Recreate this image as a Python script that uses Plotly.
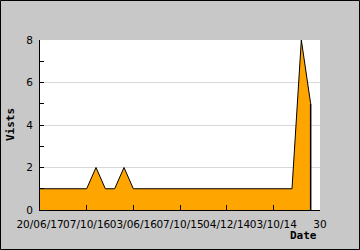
import plotly.graph_objects as go

x_index = list(range(30))
visits = [1, 1, 1, 1, 1, 1, 2, 1, 1, 2,
          1, 1, 1, 1, 1, 1, 1, 1, 1, 1,
          1, 1, 1, 1, 1, 1, 1, 1, 8, 5]
tick_vals = [0, 5, 10, 15, 20, 25, 30]
tick_text = ["20/06/17", "07/10/16", "03/06/16", "07/10/15", "04/12/14", "03/10/14", "30"]

W, H = 360, 250
L, R, T, B = 40, 40, 40, 40
pw, ph = W - L - R, H - T - B

fig = go.Figure()
fig.add_trace(go.Scatter(x=x_index, y=visits, mode="lines", fill="tozeroy",
                         fillcolor="#FFA500", line=dict(color="black", width=1),
                         hoverinfo="skip"))
fig.add_trace(go.Scatter(x=[x_index[-1], x_index[-1]], y=[0, visits[-1]], mode="lines",
                         line=dict(color="black", width=1.5), hoverinfo="skip"))

font_tick = dict(family="DejaVu Sans", size=10.5, color="black")
fig.update_layout(
    width=W, height=H, margin=dict(l=L, r=R, t=T, b=B),
    paper_bgcolor="#C8C8C8", plot_bgcolor="white", showlegend=False,
    xaxis=dict(range=[0, 30], tickvals=tick_vals, ticktext=tick_text, ticks="inside",
               ticklen=5, tickcolor="black", showline=True, linecolor="black", linewidth=1,
               showgrid=False, zeroline=False, tickfont=font_tick, tickangle=0,
               ticklabelstandoff=4, fixedrange=True),
    yaxis=dict(range=[0, 8], dtick=2, ticks="inside", ticklen=4, tickcolor="black",
               showline=True, linecolor="black", linewidth=1, showgrid=True,
               gridcolor="#D8D8D8", gridwidth=1, zeroline=False, tickfont=font_tick,
               ticklabelstandoff=4,
               minor=dict(dtick=1, ticks="inside", ticklen=4, tickcolor="black", showgrid=False),
               fixedrange=True),
    annotations=[
        dict(text="<b>Date</b>", xref="paper", yref="paper", x=(319 - L) / pw, y=-(236 - T - ph) / ph,
             xanchor="right", yanchor="middle", showarrow=False,
             font=dict(family="DejaVu Sans Mono", size=11, color="black")),
        dict(text="<b>Vists</b>", xref="paper", yref="paper", x=(10 - L) / pw, y=1 - (125 - T) / ph,
             xanchor="center", yanchor="middle", showarrow=False, textangle=-90,
             font=dict(family="DejaVu Sans Mono", size=11, color="black")),
    ],
    shapes=[dict(type="rect", xref="paper", yref="paper",
                 x0=-(L - 0.5) / pw, x1=1 + (R - 0.5) / pw, y0=-(B - 0.5) / ph, y1=1 + (T - 0.5) / ph,
                 line=dict(color="black", width=1), fillcolor="rgba(0,0,0,0)", layer="above")],
)
fig.write_html("out.html", config={"displayModeBar": False})
